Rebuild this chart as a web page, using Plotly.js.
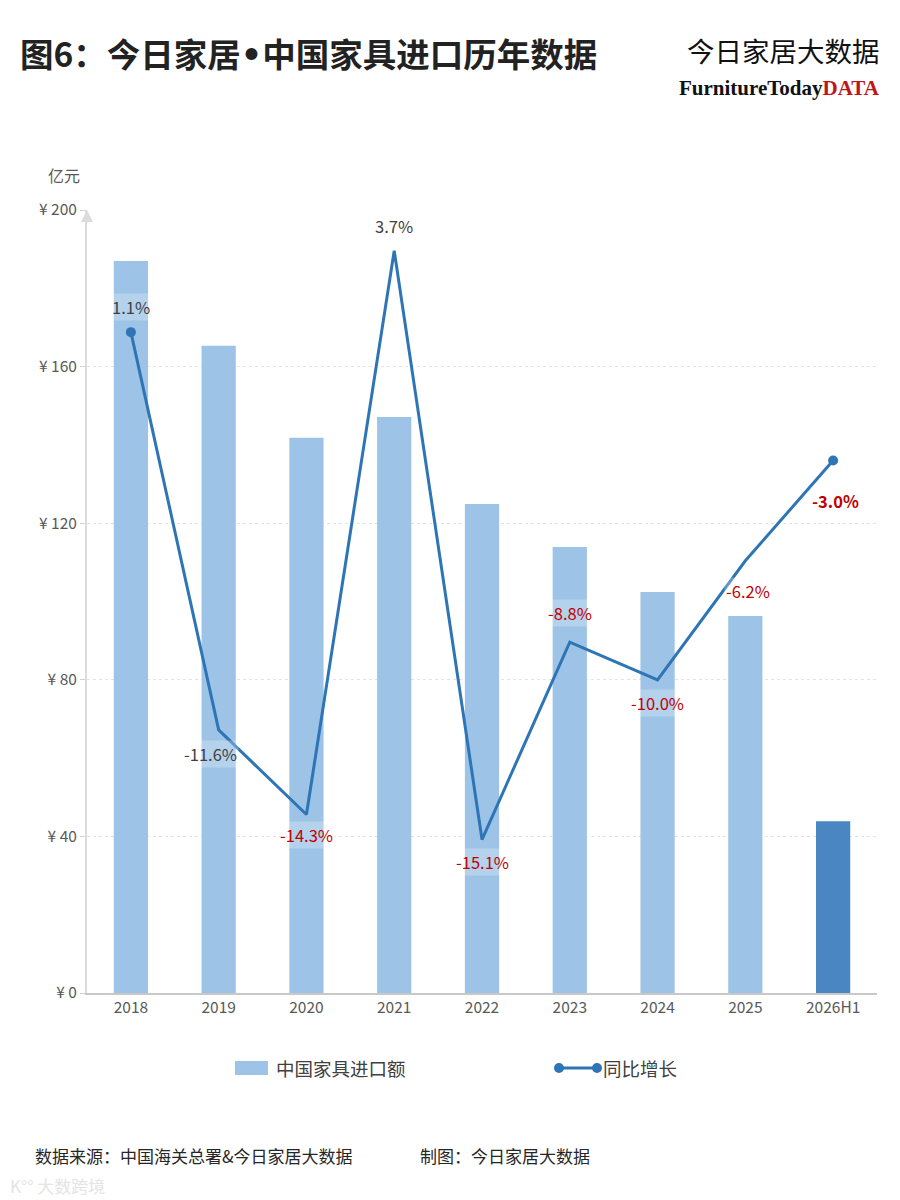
<!DOCTYPE html>
<html>
<head>
<meta charset="utf-8">
<script src="https://cdn.plot.ly/plotly-3.0.1.min.js"></script>
<style>
  html, body { margin: 0; padding: 0; background: #fff; }
  #chart { width: 900px; height: 1200px; }
</style>
</head>
<body>
<div id="chart"></div>
<script>
// 中国家具进口额（亿元）与同比增长（%）
const years = ['2018', '2019', '2020', '2021', '2022', '2023', '2024', '2025', '2026H1'];
const importAmount = [187, 165.3, 141.8, 147.1, 124.9, 113.9, 102.4, 96.3, 43.9];
const yoyGrowth = [1.1, -11.6, -14.3, 3.7, -15.1, -8.8, -10.0, -6.2, -3.0];
const yoyLabels = ['1.1%', '-11.6%', '-14.3%', '3.7%', '-15.1%', '-8.8%', '-10.0%', '-6.2%', '-3.0%'];
const yTickVals = [0, 40, 80, 120, 160, 200];
const yTickText = ['¥ 0', '¥ 40', '¥ 80', '¥ 120', '¥ 160', '¥ 200'];

// 样式：最后一根（半年数据）用深色，标签红/灰按原图
const barColors = years.map((y) => (y.endsWith('H1') ? '#4a86c2' : '#9dc3e6'));
const labelColors = ['#404040', '#404040', '#c00000', '#404040', '#c00000', '#c00000', '#c00000', '#c00000', '#c00000'];
const labelShift = [[0, 25], [-8, -24], [0, -21], [0, 25], [0, -22], [0, 29], [0, -23], [3, -30], [2, -40]];
const markerSizes = years.map((y, i) => (i === 0 || i === years.length - 1 ? 10 : 0));

const FONT = '"Noto Sans CJK SC", "Noto Sans", sans-serif';
const LINE_BLUE = '#2e75b6';

const barTrace = {
  type: 'bar',
  name: '中国家具进口额',
  x: years,
  y: importAmount,
  marker: { color: barColors },
  width: 0.39,
  hoverinfo: 'skip',
};

const lineTrace = {
  type: 'scatter',
  mode: 'lines+markers',
  name: '同比增长',
  x: years,
  y: yoyGrowth,
  yaxis: 'y2',
  line: { color: LINE_BLUE, width: 3 },
  marker: { color: LINE_BLUE, size: markerSizes, opacity: 1, line: { width: 0 } },
  hoverinfo: 'skip',
};

// 注：类目轴上 '2018' 这种字符串会被当成数字，所以标注用类目序号
const labelAnnotations = yoyGrowth.map((v, i) => ({
  x: i,
  y: v,
  xref: 'x',
  yref: 'y2',
  text: i === years.length - 1 ? '<b>' + yoyLabels[i] + '</b>' : yoyLabels[i],
  showarrow: false,
  xshift: labelShift[i][0],
  yshift: labelShift[i][1],
  font: { family: FONT, size: 16.5, color: labelColors[i] },
  bgcolor: 'rgba(255,255,255,0.25)',
}));

// 像素 -> paper 坐标（绘图区 x 87..877, y 210..993）
const px = (x) => (x - 87) / 790;
const py = (y) => (993 - y) / 783;

// 手绘图例（原图的色块较大）
const legendY = py(1068);
const legendShapes = [
  { type: 'rect', xref: 'paper', yref: 'paper', x0: px(235), x1: px(268), y0: legendY - 7 / 783, y1: legendY + 7 / 783,
    fillcolor: '#9dc3e6', line: { width: 0 } },
  { type: 'line', xref: 'paper', yref: 'paper', x0: px(559), x1: px(597), y0: legendY, y1: legendY,
    line: { color: LINE_BLUE, width: 3 } },
  { type: 'circle', xref: 'paper', yref: 'paper', x0: px(554), x1: px(564), y0: legendY - 5 / 783, y1: legendY + 5 / 783,
    fillcolor: LINE_BLUE, line: { width: 0 } },
  { type: 'circle', xref: 'paper', yref: 'paper', x0: px(592), x1: px(602), y0: legendY - 5 / 783, y1: legendY + 5 / 783,
    fillcolor: LINE_BLUE, line: { width: 0 } },
];

const layout = {
  width: 900,
  height: 1200,
  margin: { l: 87, r: 23, t: 210, b: 207 },
  paper_bgcolor: '#ffffff',
  plot_bgcolor: '#ffffff',
  font: { family: FONT, color: '#595959' },
  title: {
    text: '<b>图6：今日家居<span style="font-family:DejaVu Sans">•</span>中国家具进口历年数据</b>',
    x: 20 / 900, xanchor: 'left', xref: 'container',
    y: 1 - 55 / 1200, yanchor: 'middle', yref: 'container',
    font: { family: FONT, size: 33.5, color: '#222222' },
  },
  xaxis: {
    type: 'category',
    range: [-0.5, years.length - 0.5],
    showline: true,
    linecolor: '#c8c8c8',
    linewidth: 1.5,
    ticks: '',
    tickfont: { size: 15.5, color: '#595959' },
    showgrid: false,
  },
  yaxis: {
    range: [0, 200],
    tickvals: yTickVals,
    ticktext: yTickText,
    tickfont: { size: 15.5, color: '#595959' },
    ticks: 'outside',
    ticklen: 5,
    tickcolor: '#d0d0d0',
    showline: true,
    linecolor: '#dcdcdc',
    linewidth: 2,
    showgrid: true,
    gridcolor: '#e3e3e3',
    griddash: 'dot',
    zeroline: false,
  },
  yaxis2: {
    range: [-20, 5],
    overlaying: 'y',
    side: 'right',
    visible: false,
    showgrid: false,
    zeroline: false,
  },
  showlegend: false,
  shapes: legendShapes,
  annotations: labelAnnotations.concat([
    {
      text: '亿元', xref: 'paper', yref: 'paper',
      x: px(64), y: py(175), xanchor: 'center', yanchor: 'middle',
      showarrow: false, font: { family: FONT, size: 16, color: '#595959' },
    },
    {
      text: '', xref: 'paper', yref: 'paper', x: 0, y: 1,
      showarrow: true, arrowhead: 2, arrowsize: 1.2, arrowwidth: 2, arrowcolor: '#dcdcdc',
      ax: 0, ay: 14,
    },
    {
      text: '中国家具进口额', xref: 'paper', yref: 'paper',
      x: px(274), y: legendY, xanchor: 'left', yanchor: 'middle',
      showarrow: false, font: { family: FONT, size: 18.5, color: '#404040' },
    },
    {
      text: '同比增长', xref: 'paper', yref: 'paper',
      x: px(601), y: legendY, xanchor: 'left', yanchor: 'middle',
      showarrow: false, font: { family: FONT, size: 18.5, color: '#404040' },
    },
    {
      text: '今日家居大数据', xref: 'paper', yref: 'paper',
      x: px(882), y: py(50), xanchor: 'right', yanchor: 'middle',
      showarrow: false, font: { family: FONT, size: 27.5, color: '#111111' },
    },
    {
      text: '<b>FurnitureToday</b><b><span style="color:#c0141c">DATA</span></b>',
      xref: 'paper', yref: 'paper',
      x: px(882), y: py(88), xanchor: 'right', yanchor: 'middle',
      showarrow: false, font: { family: '"Liberation Serif", "DejaVu Serif", serif', size: 21, color: '#111111' },
    },
    {
      text: '数据来源：中国海关总署&今日家居大数据', xref: 'paper', yref: 'paper',
      x: px(33), y: py(1155), xanchor: 'left', yanchor: 'middle',
      showarrow: false, font: { family: FONT, size: 17, color: '#262626' },
    },
    {
      text: '制图：今日家居大数据', xref: 'paper', yref: 'paper',
      x: px(418), y: py(1155), xanchor: 'left', yanchor: 'middle',
      showarrow: false, font: { family: FONT, size: 17, color: '#262626' },
    },
    {
      text: 'K°° 大数跨境', xref: 'paper', yref: 'paper',
      x: px(8), y: py(1185), xanchor: 'left', yanchor: 'middle',
      showarrow: false, font: { family: FONT, size: 17, color: '#e4e4e4' },
    },
  ]),
};

Plotly.newPlot('chart', [barTrace, lineTrace], layout, { displayModeBar: false, staticPlot: true });
</script>
</body>
</html>
